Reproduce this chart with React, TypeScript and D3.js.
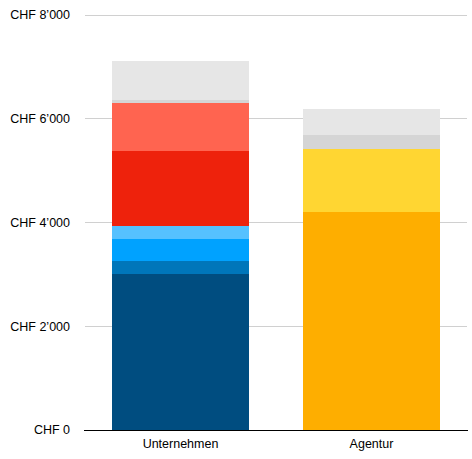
import { useEffect, useRef } from "react"
import * as d3 from "d3"

const categories = ["Unternehmen", "Agentur"]

// stacked segments per category, bottom to top
const unternehmenValues = [3000, 250, 425, 250, 1445, 925, 60, 750]
const agenturValues = [4200, 1215, 270, 500]

const yTicks = [0, 2000, 4000, 6000, 8000]

const unternehmenColors = ["#004d80", "#0076ba", "#00a2ff", "#56c1ff", "#ee220c", "#ff6450", "#d5d5d5", "#e6e6e6"]
const agenturColors = ["#feae00", "#ffd632", "#d5d5d5", "#e6e6e6"]

export default function App() {
  const svgRef = useRef<SVGSVGElement>(null)

  useEffect(() => {
    if (!svgRef.current) return
    document.body.style.margin = "0"

    const svg = d3.select(svgRef.current)
    svg.selectAll("*").remove()

    const width = 472
    const height = 459
    const left = 85
    const right = 467
    const top = 14.5
    const bottom = 430

    svg.attr("width", width).attr("height", height)

    const x = d3
      .scaleBand()
      .domain(categories)
      .range([left, right])
      .paddingInner(0.283)
      .paddingOuter(0.1415)

    const y = d3.scaleLinear().domain([0, 8000]).range([bottom, top])

    const font = "'Liberation Sans', Arial, Helvetica, sans-serif"
    const fmt = (v: number) => "CHF " + d3.format(",")(v).replace(/,/g, "\u2019")

    // grid lines
    svg
      .append("g")
      .selectAll("line")
      .data(yTicks.filter((t) => t > 0))
      .enter()
      .append("line")
      .attr("x1", left)
      .attr("x2", right)
      .attr("y1", (d) => Math.round(y(d)) + 0.5)
      .attr("y2", (d) => Math.round(y(d)) + 0.5)
      .attr("stroke", "#d0d0d0")
      .attr("stroke-width", 1)

    // y labels
    svg
      .append("g")
      .selectAll("text")
      .data(yTicks)
      .enter()
      .append("text")
      .attr("x", 70)
      .attr("y", (d) => y(d))
      .attr("dy", "0.35em")
      .attr("text-anchor", "end")
      .attr("font-family", font)
      .attr("font-size", 12.5)
      .attr("fill", "#000")
      .text((d) => fmt(d))

    const stacks = [
      { cat: categories[0], values: unternehmenValues, colors: unternehmenColors },
      { cat: categories[1], values: agenturValues, colors: agenturColors },
    ]

    stacks.forEach((s) => {
      const ends = Array.from(d3.cumsum(s.values))
      const segs = s.values.map((v, i) => ({ y0: ends[i] - v, y1: ends[i], color: s.colors[i] }))
      svg
        .append("g")
        .selectAll("rect")
        .data(segs)
        .enter()
        .append("rect")
        .attr("x", x(s.cat) || 0)
        .attr("width", x.bandwidth())
        .attr("y", (d) => y(d.y1))
        .attr("height", (d) => y(d.y0) - y(d.y1))
        .attr("fill", (d) => d.color)
        .attr("shape-rendering", "crispEdges")
    })

    // baseline
    svg
      .append("line")
      .attr("x1", left - 1)
      .attr("x2", right + 1)
      .attr("y1", bottom + 0.5)
      .attr("y2", bottom + 0.5)
      .attr("stroke", "#000")
      .attr("stroke-width", 1.2)

    // category labels
    svg
      .append("g")
      .selectAll("text")
      .data(categories)
      .enter()
      .append("text")
      .attr("x", (d) => (x(d) || 0) + x.bandwidth() / 2)
      .attr("y", 447.5)
      .attr("text-anchor", "middle")
      .attr("font-family", font)
      .attr("font-size", 12.5)
      .attr("fill", "#000")
      .text((d) => d)
  }, [])

  return <svg ref={svgRef} style={{ display: "block" }}></svg>
}
